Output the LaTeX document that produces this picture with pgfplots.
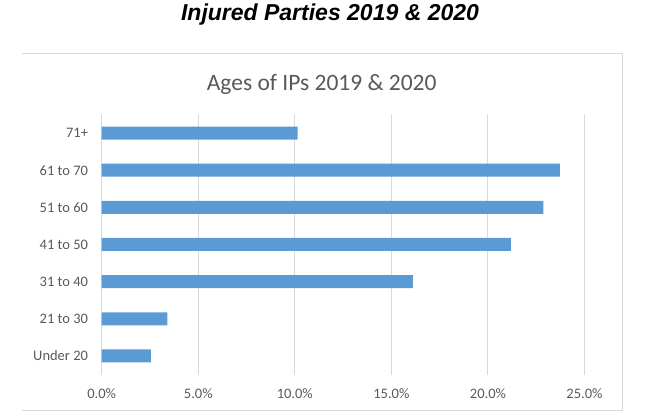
\documentclass[border=0pt]{standalone}
\usepackage{fontspec}
\setmainfont{Carlito}
\newfontfamily\arialfont{Liberation Sans}
\usepackage{pgfplots}
\pgfplotsset{compat=1.18}
\definecolor{barblue}{HTML}{5B9BD5}
\definecolor{gridgray}{HTML}{D9D9D9}
\definecolor{txtgray}{HTML}{595959}
\begin{document}
\begin{tikzpicture}
\path[use as bounding box] (0,0) rectangle (654bp,413bp);
% chart area border (top, right, bottom)
\draw[gridgray, line width=1bp] (22bp,359bp) -- (622bp,359bp) -- (622bp,2bp) -- (22bp,2bp);
% titles
\node[anchor=base, inner sep=0pt] at (330bp,392.3bp) {\arialfont\fontsize{23bp}{28bp}\selectfont\bfseries\itshape Injured Parties 2019 \& 2020};
\node[anchor=base, inner sep=0pt, text=txtgray] at (321.7bp,322.5bp) {\fontsize{23.5bp}{28bp}\selectfont Ages of IPs 2019 \& 2020};
\begin{axis}[
  at={(101.7bp,38.5bp)}, anchor=south west,
  scale only axis,
  width=482.8bp, height=260bp,
  xmin=0, xmax=25, ymin=-0.5, ymax=6.5,
  xtick={0,5,10,15,20,25},
  xticklabels={0.0\%,5.0\%,10.0\%,15.0\%,20.0\%,25.0\%},
  ytick={0,1,2,3,4,5,6},
  yticklabels={Under 20,21 to 30,31 to 40,41 to 50,51 to 60,61 to 70,71+},
  major tick length=0pt,
  axis line style={draw=none},
  xmajorgrids,
  grid style={gridgray, line width=1bp},
  ticklabel style={font=\fontsize{14.5bp}{17bp}\selectfont, text=txtgray},
  yticklabel style={inner sep=0pt, anchor=east, xshift=-13.5bp},
  xticklabel style={inner sep=0pt, anchor=north, yshift=-14.2bp},
  clip=false,
]
\addplot[xbar, fill=barblue, draw=none, bar width=13bp]
  coordinates {(2.54,0) (3.40,1) (16.11,2) (21.19,3) (22.87,4) (23.72,5) (10.15,6)};
\end{axis}
\end{tikzpicture}
\end{document}
